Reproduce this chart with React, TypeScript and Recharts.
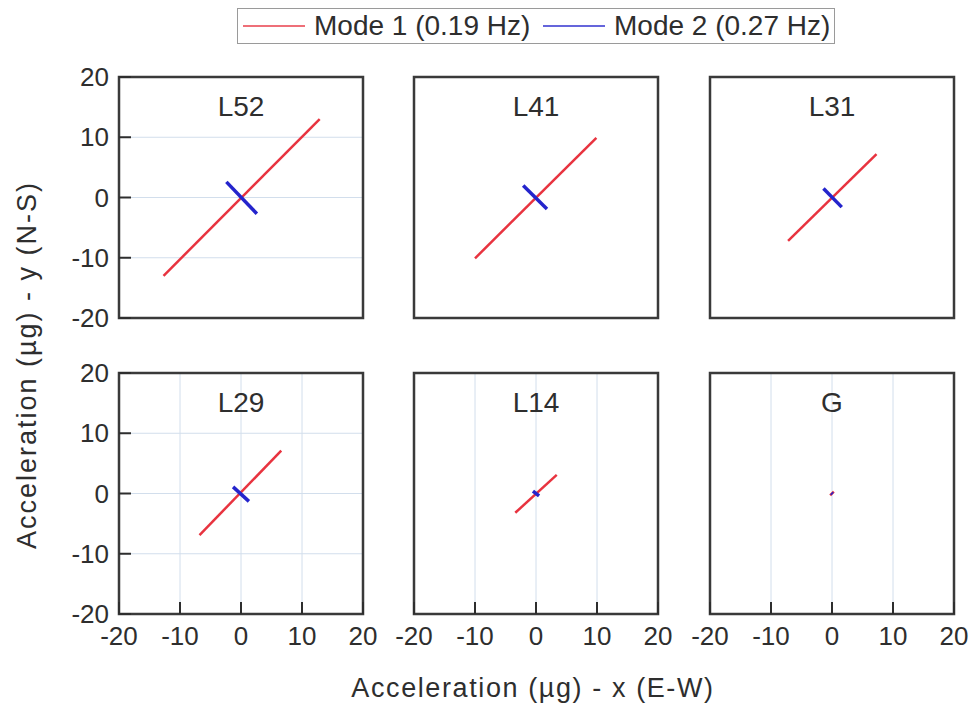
import React from 'react';
import {
  LineChart,
  Line,
  XAxis,
  YAxis,
  CartesianGrid,
  ReferenceArea,
} from 'recharts';

// panel labels, row by row
const panelNames = ['L52', 'L41', 'L31', 'L29', 'L14', 'G'];

// Mode 1 (0.19 Hz): start / end of each orbit, x and y in µg
const mode1X = [[-12.7, 12.9], [-10, 9.9], [-7.2, 7.3], [-6.8, 6.6], [-3.4, 3.4], [-0.3, 0.3]];
const mode1Y = [[-13, 13], [-10.1, 9.9], [-7.2, 7.2], [-6.9, 7.1], [-3.2, 3.1], [-0.3, 0.3]];

// Mode 2 (0.27 Hz)
const mode2X = [[-2.4, 2.6], [-2.1, 1.8], [-1.4, 1.6], [-1.3, 1.3], [-0.5, 0.5], [-0.1, 0.1]];
const mode2Y = [[2.6, -2.7], [2.0, -1.9], [1.5, -1.6], [1.1, -1.3], [0.4, -0.4], [0.1, -0.1]];

const axisTicks = [-20, -10, 0, 10, 20];
const legendLabels = ['Mode 1 (0.19 Hz)', 'Mode 2 (0.27 Hz)'];

const RED = '#e8333f';
const BLUE = '#2424cc';
const INK = '#2e2e2e';
const FONT = '"Liberation Sans", Arial, sans-serif';

const colLefts = [119, 414, 710];
const rowTops = [77, 373];
const PLOT_W = 244;
const PLOT_H = 241;
const Y_AXIS_W = 70;
const X_AXIS_H = 50;
const TOP_PAD = 20;
const RIGHT_PAD = 30;

function toSegment(xs: number[], ys: number[]) {
  return xs.map((x, i) => ({ x, y: ys[i] }));
}

function Panel({ index }: { index: number }) {
  const row = Math.floor(index / 3);
  const col = index % 3;
  const left = colLefts[col];
  const top = rowTops[row];
  const showY = col === 0;
  const showX = row === 1;
  const m1 = toSegment(mode1X[index], mode1Y[index]);
  const m2 = toSegment(mode2X[index], mode2Y[index]);
  const tickStyle = { fill: INK, fontSize: 26, fontFamily: FONT };

  return (
    <div style={{ position: 'absolute', left: left - Y_AXIS_W, top: top - TOP_PAD }}>
      <LineChart
        width={Y_AXIS_W + PLOT_W + RIGHT_PAD}
        height={TOP_PAD + PLOT_H + X_AXIS_H}
        margin={{ top: TOP_PAD, right: RIGHT_PAD, left: 0, bottom: 0 }}
      >
        <CartesianGrid stroke="#d2deec" strokeWidth={1} />
        <XAxis
          type="number"
          dataKey="x"
          domain={[-20, 20]}
          ticks={axisTicks}
          interval={0}
          height={X_AXIS_H}
          axisLine={false}
          tickSize={-12}
          tickMargin={25}
          tickLine={{ stroke: INK, strokeWidth: 2 }}
          tick={showX ? tickStyle : false}
        />
        <YAxis
          type="number"
          dataKey="y"
          domain={[-20, 20]}
          ticks={axisTicks}
          interval={0}
          width={Y_AXIS_W}
          axisLine={false}
          tickSize={-12}
          tickMargin={22}
          tickLine={{ stroke: INK, strokeWidth: 2 }}
          tick={showY ? tickStyle : false}
        />
        <ReferenceArea
          x1={-20}
          x2={20}
          y1={-20}
          y2={20}
          fill="none"
          stroke="#3a3a3a"
          strokeWidth={2.5}
        />
        <Line
          data={m1}
          dataKey="y"
          stroke={RED}
          strokeWidth={2.5}
          dot={false}
          activeDot={false}
          isAnimationActive={false}
        />
        <Line
          data={m2}
          dataKey="y"
          stroke={BLUE}
          strokeWidth={3.5}
          dot={false}
          activeDot={false}
          isAnimationActive={false}
        />
      </LineChart>
      <div
        style={{
          position: 'absolute',
          left: Y_AXIS_W,
          width: PLOT_W,
          top: TOP_PAD + 30 - 14,
          textAlign: 'center',
          fontFamily: FONT,
          fontSize: 28,
          lineHeight: '28px',
          color: INK,
        }}
      >
        {panelNames[index]}
      </div>
    </div>
  );
}

export default function App() {
  return (
    <div
      style={{
        position: 'absolute',
        left: 0,
        top: 0,
        width: 974,
        height: 711,
        background: '#fff',
        overflow: 'hidden',
        fontFamily: FONT,
      }}
    >
      {/* legend */}
      <div
        style={{
          position: 'absolute',
          left: 237,
          top: 8,
          width: 596,
          height: 34,
          border: '1.5px solid #9a9a9a',
        }}
      >
        {[RED, BLUE].map((c, i) => (
          <div
            key={i}
            style={{ position: 'absolute', left: i === 0 ? 5 : 305, top: 0, height: 34, display: 'flex', alignItems: 'center' }}
          >
            <svg width={62} height={4}>
              <line x1={0} y1={2} x2={62} y2={2} stroke={c} strokeWidth={2} opacity={0.7} />
            </svg>
            <span style={{ marginLeft: 9, fontSize: 28, color: INK, whiteSpace: 'nowrap' }}>
              {legendLabels[i]}
            </span>
          </div>
        ))}
      </div>

      {panelNames.map((_, i) => (
        <Panel key={i} index={i} />
      ))}

      {/* axis titles */}
      <div
        style={{
          position: 'absolute',
          left: 533 - 250,
          width: 500,
          top: 688 - 14,
          textAlign: 'center',
          fontSize: 27,
          lineHeight: '28px',
          letterSpacing: 1.6,
          color: INK,
          whiteSpace: 'nowrap',
        }}
      >
        Acceleration (µg) - x (E-W)
      </div>
      <div
        style={{
          position: 'absolute',
          left: 27 - 250,
          width: 500,
          top: 365 - 14,
          textAlign: 'center',
          fontSize: 27,
          lineHeight: '28px',
          letterSpacing: 2,
          color: INK,
          whiteSpace: 'nowrap',
          transform: 'rotate(-90deg)',
        }}
      >
        Acceleration (µg) - y (N-S)
      </div>
    </div>
  );
}
